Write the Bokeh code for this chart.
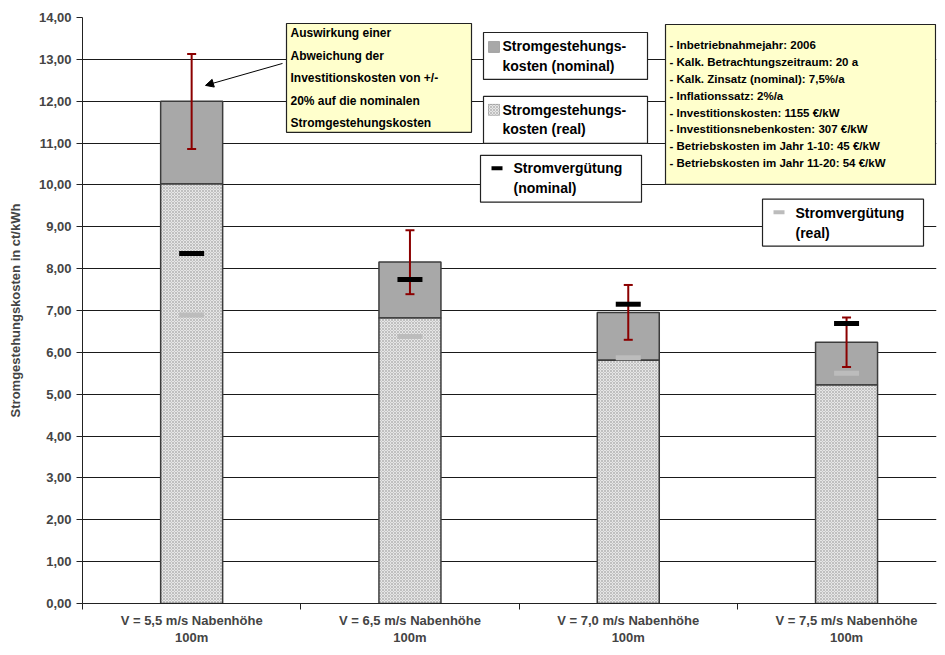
from bokeh.plotting import figure
from bokeh.models import (Range1d, FixedTicker, BoxAnnotation, Label,
                          Arrow, NormalHead, ColumnDataSource)
from bokeh.embed import file_html
from bokeh.resources import INLINE

# ---------------- data ----------------
categories = ["V = 5,5 m/s Nabenhöhe\n100m", "V = 6,5 m/s Nabenhöhe\n100m",
              "V = 7,0 m/s Nabenhöhe\n100m", "V = 7,5 m/s Nabenhöhe\n100m"]
sgk_real = [10.02, 6.82, 5.81, 5.22]          # Stromgestehungskosten (real)
sgk_nominal = [12.00, 8.16, 6.95, 6.24]       # Stromgestehungskosten (nominal)
verg_nominal = [8.36, 7.74, 7.15, 6.69]       # Stromvergütung (nominal)
verg_real = [6.89, 6.38, 5.87, 5.50]          # Stromvergütung (real)
err_low = [10.86, 7.39, 6.30, 5.65]           # -20 % Investitionskosten
err_high = [13.13, 8.92, 7.61, 6.83]          # +20 % Investitionskosten
y_ticks = list(range(0, 15))
y_tick_labels = [f"{v},00" for v in y_ticks]

note_lines = ["Auswirkung einer", "Abweichung der", "Investitionskosten von +/-",
              "20% auf die nominalen", "Stromgestehungskosten"]
info_lines = ["- Inbetriebnahmejahr: 2006",
              "- Kalk. Betrachtungszeitraum: 20 a",
              "- Kalk. Zinsatz (nominal): 7,5%/a",
              "- Inflationssatz: 2%/a",
              "- Investitionskosten: 1155 €/kW",
              "- Investitionsnebenkosten: 307 €/kW",
              "- Betriebskosten im Jahr 1-10: 45 €/kW",
              "- Betriebskosten im Jahr 11-20: 54 €/kW"]
legend_labels = [("Stromgestehungs-", "kosten (nominal)"),
                 ("Stromgestehungs-", "kosten (real)"),
                 ("Stromvergütung", "(nominal)"),
                 ("Stromvergütung", "(real)")]

FONT = "Liberation Sans"
x_pos = [i + 0.5 for i in range(len(categories))]

src = ColumnDataSource(dict(x=x_pos, real=sgk_real, nom=sgk_nominal,
                            vn=verg_nominal, vr=verg_real, lo=err_low, hi=err_high))

p = figure(width=937, height=647, output_backend="svg", toolbar_location=None,
           x_range=Range1d(0, 3.912), y_range=Range1d(0, 14),
           min_border_left=82, min_border_top=17, min_border_right=1, min_border_bottom=43)
p.outline_line_color = None
p.background_fill_color = "white"

# grid
p.xgrid.grid_line_color = None
p.ygrid.grid_line_color = "#1a1a1a"
p.ygrid.grid_line_width = 1

# axes
p.yaxis.ticker = FixedTicker(ticks=y_ticks)
p.yaxis.major_label_overrides = {t: l for t, l in zip(y_ticks, y_tick_labels)}
p.yaxis.axis_label = "Stromgestehungskosten in ct/kWh"
p.yaxis.axis_label_text_font = FONT
p.yaxis.axis_label_text_font_style = "bold"
p.yaxis.axis_label_text_font_size = "13px"
p.yaxis.axis_label_standoff = 13
p.yaxis.major_label_text_font = FONT
p.yaxis.major_label_text_font_style = "bold"
p.yaxis.major_label_text_font_size = "13px"
p.yaxis.major_tick_in = 0
p.yaxis.major_tick_out = 6
p.yaxis.minor_tick_line_color = None
p.yaxis.axis_line_color = "#222222"
p.yaxis.major_tick_line_color = "#222222"

p.xaxis.ticker = FixedTicker(ticks=x_pos, minor_ticks=[0, 1, 2, 3, 4])
p.xaxis.major_label_overrides = {x: c for x, c in zip(x_pos, categories)}
p.xaxis.major_tick_line_color = None
p.xaxis.major_tick_in = 0
p.xaxis.major_tick_out = 0
p.xaxis.minor_tick_in = 0
p.xaxis.minor_tick_out = 6
p.xaxis.minor_tick_line_color = "#222222"
p.xaxis.axis_line_color = "#222222"
p.xaxis.major_label_standoff = 3
p.xaxis.major_label_text_font = FONT
p.xaxis.major_label_text_font_style = "bold"
p.xaxis.major_label_text_font_size = "13px"
p.xaxis.major_label_text_line_height = 1.15

# bars
W = 0.284
p.vbar(x="x", bottom="real", top="nom", width=W, source=src,
       fill_color="#a8a8a8", line_color="#3c3c3c", line_width=1.5)
p.vbar(x="x", bottom=0, top="real", width=W, source=src,
       fill_color="#e6e6e6", line_color="#3c3c3c", line_width=1.5,
       hatch_pattern="x", hatch_color="#c0c0c0", hatch_scale=3, hatch_weight=1)

# error bars (drawn over the bars)
ERR = "#8b0000"
p.segment(x0="x", y0="lo", x1="x", y1="hi", source=src, line_color=ERR, line_width=2)
p.scatter(x="x", y="lo", source=src, marker="dash", size=9, line_color=ERR, line_width=2)
p.scatter(x="x", y="hi", source=src, marker="dash", size=9, line_color=ERR, line_width=2)

# Stromvergütung markers
p.rect(x="x", y="vr", width=25, height=5, width_units="screen", height_units="screen",
       source=src, fill_color="#bcbcbc", line_color=None)
p.rect(x="x", y="vn", width=25, height=5, width_units="screen", height_units="screen",
       source=src, fill_color="black", line_color=None)

# ------------- annotations (positions given in reference pixels) -------------
def dx(px):
    return (px - 82) / 218.3

def dy(py):
    return (604 - py) / 41.93

def box(l, t, r, b, fill="white", **kw):
    p.add_layout(BoxAnnotation(left=dx(l), right=dx(r), top=dy(t), bottom=dy(b),
                               fill_color=fill, fill_alpha=1, line_color="#222222",
                               line_width=1.2, line_alpha=1, **kw))

def text(px, py, s, size="12px"):
    p.add_layout(Label(x=dx(px), y=dy(py), text=s, text_font=FONT, text_font_style="bold",
                       text_font_size=size, text_baseline="middle", text_color="black"))

# note box
box(286, 23, 471, 132, fill="#ffffcc")
for i, s in enumerate(note_lines):
    text(290, 33 + i * 22.5, s, "12px")
p.add_layout(Arrow(x_start=dx(282), y_start=dy(63), x_end=dx(205), y_end=dy(85),
                   line_color="black", line_width=1,
                   end=NormalHead(size=8, fill_color="black", line_color="black")))

# info box
box(665, 24, 935, 184, fill="#ffffcc")
for i, s in enumerate(info_lines):
    text(669, 45 + i * 16.8, s, "11.5px")

# legend boxes
box(483, 32, 647, 79)
p.add_layout(BoxAnnotation(left=dx(488), right=dx(499), top=dy(41), bottom=dy(52),
                           fill_color="#a8a8a8", fill_alpha=1, line_color="#3c3c3c", line_width=1))
text(502, 46, legend_labels[0][0], "14px")
text(502, 66, legend_labels[0][1], "14px")

box(483, 96, 647, 143)
p.add_layout(BoxAnnotation(left=dx(488), right=dx(499), top=dy(104), bottom=dy(115),
                           fill_color="#e6e6e6", fill_alpha=1, line_color="#3c3c3c", line_width=1,
                           hatch_pattern="x", hatch_color="#c0c0c0", hatch_scale=3, hatch_weight=1))
text(502, 110, legend_labels[1][0], "14px")
text(502, 129, legend_labels[1][1], "14px")

box(480, 155, 641, 202)
p.add_layout(BoxAnnotation(left=dx(491), right=dx(502), top=dy(166), bottom=dy(170),
                           fill_color="black", fill_alpha=1, line_color=None))
text(513, 168, legend_labels[2][0], "14px")
text(513, 188, legend_labels[2][1], "14px")

box(762, 199, 923, 246)
p.add_layout(BoxAnnotation(left=dx(773), right=dx(784), top=dy(210), bottom=dy(214),
                           fill_color="#bcbcbc", fill_alpha=1, line_color=None))
text(795, 213, legend_labels[3][0], "14px")
text(795, 233, legend_labels[3][1], "14px")

open("out.html", "w").write(file_html(p, INLINE))
